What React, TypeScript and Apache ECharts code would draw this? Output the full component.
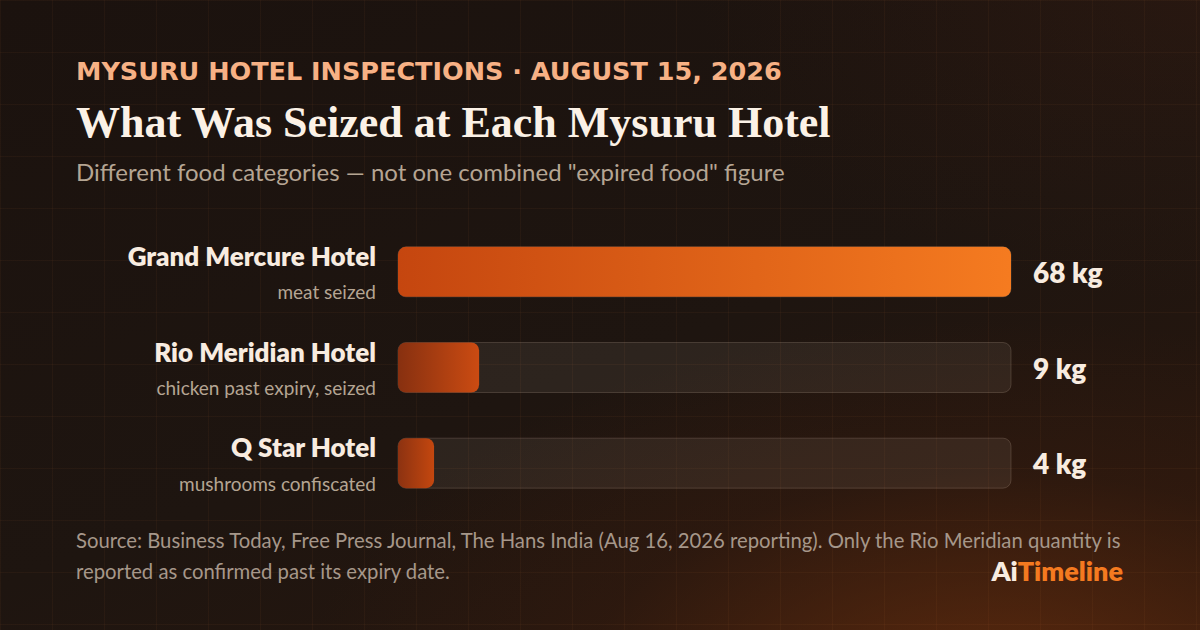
import React, { useRef, useEffect } from "react";
import * as echarts from "echarts";

// data
const hotels = ["Grand Mercure Hotel", "Rio Meridian Hotel", "Q Star Hotel"];
const notes = ["meat seized", "chicken past expiry, seized", "mushrooms confiscated"];
const seizedKg = [68, 9, 4];
const barFrom = ["#c5460f", "#873010", "#8c3211"];
const barTo = ["#f57b20", "#cb4b12", "#c4470f"];

const EYEBROW = "MYSURU HOTEL INSPECTIONS · AUGUST 15, 2026";
const TITLE = "What Was Seized at Each Mysuru Hotel";
const SUBTITLE = 'Different food categories — not one combined "expired food" figure';
const SOURCE_1 =
  "Source: Business Today, Free Press Journal, The Hans India (Aug 16, 2026 reporting). Only the Rio Meridian quantity is";
const SOURCE_2 = "reported as confirmed past its expiry date.";

const SANS = "Lato, 'Noto Sans', sans-serif";
const WIDE = "'DejaVu Sans', 'Noto Sans', sans-serif";
const SERIF = "'Liberation Serif', 'DejaVu Serif', serif";
const CREAM = "#f8ece0";
const MUTED = "#b5a593";

const App: React.FC = () => {
  const ref = useRef<HTMLDivElement>(null);

  useEffect(() => {
    if (!ref.current) return;
    const chart = echarts.init(ref.current, null, { renderer: "svg" });

    chart.setOption({
      animation: false,
      backgroundColor: "transparent",
      grid: { left: 398, right: 189, top: 224, height: 287 },
      xAxis: {
        type: "value",
        min: 0,
        max: 68,
        show: false,
      },
      yAxis: [
        {
          type: "category",
          inverse: true,
          data: hotels,
          axisLine: { show: false },
          axisTick: { show: false },
          axisLabel: {
            margin: 22,
            align: "right",
            formatter: (v: string, i: number) => `{name|${v}}\n{sub|${notes[i]}}`,
            rich: {
              name: {
                fontFamily: SANS,
                fontSize: 26,
                fontWeight: 800,
                color: CREAM,
                lineHeight: 40,
                align: "right",
              },
              sub: {
                fontFamily: SANS,
                fontSize: 19,
                color: MUTED,
                lineHeight: 32,
                align: "right",
              },
            },
          },
        },
        {
          type: "category",
          inverse: true,
          position: "right",
          data: hotels,
          axisLine: { show: false },
          axisTick: { show: false },
          axisLabel: {
            margin: 22,
            align: "left",
            fontFamily: SANS,
            fontSize: 28,
            fontWeight: 800,
            color: CREAM,
            formatter: (_v: string, i: number) => `${seizedKg[i]} kg`,
          },
        },
      ],
      series: [
        {
          type: "bar",
          barWidth: 50,
          showBackground: true,
          backgroundStyle: {
            color: "rgba(255,240,225,0.07)",
            borderColor: "rgba(255,230,205,0.16)",
            borderWidth: 1,
            borderRadius: 8,
          },
          data: seizedKg.map((v, i) => ({
            value: v,
            itemStyle: {
              borderRadius: 8,
              color: new echarts.graphic.LinearGradient(0, 0, 1, 0, [
                { offset: 0, color: barFrom[i] },
                { offset: 1, color: barTo[i] },
              ]),
            },
          })),
        },
      ],
      graphic: [
        {
          type: "text",
          left: 76,
          top: 58,
          style: {
            text: EYEBROW,
            fontFamily: WIDE,
            fontSize: 25.5,
            fontWeight: 700,
            fill: "#f7b185",
          },
        },
        {
          type: "text",
          left: 76,
          top: 100,
          style: {
            text: TITLE,
            fontFamily: SERIF,
            fontSize: 44,
            fontWeight: 700,
            fill: "#fbf1e6",
          },
        },
        {
          type: "text",
          left: 76,
          top: 159,
          style: {
            text: SUBTITLE,
            fontFamily: SANS,
            fontSize: 24,
            fill: MUTED,
          },
        },
        {
          type: "text",
          left: 76,
          top: 530,
          style: {
            text: SOURCE_1,
            fontFamily: SANS,
            fontSize: 20.3,
            fill: "#a6978a",
          },
        },
        {
          type: "text",
          left: 76,
          top: 561,
          style: {
            text: SOURCE_2,
            fontFamily: SANS,
            fontSize: 20.3,
            fill: "#a6978a",
          },
        },
        {
          type: "text",
          right: 77,
          top: 557,
          style: {
            text: "{ai|Ai}{tl|Timeline}",
            rich: {
              ai: { fontFamily: SANS, fontSize: 27, fontWeight: 800, fill: CREAM },
              tl: { fontFamily: SANS, fontSize: 27, fontWeight: 800, fill: "#f47a20" },
            },
          },
        },
      ],
    });

    return () => chart.dispose();
  }, []);

  return (
    <div
      style={{
        position: "fixed",
        left: 0,
        top: 0,
        width: 1200,
        height: 630,
        overflow: "hidden",
        background:
          "radial-gradient(ellipse 700px 380px at 1000px 700px, rgba(110,48,14,0.75), rgba(70,32,14,0.25) 60%, rgba(0,0,0,0) 100%), " +
          "radial-gradient(ellipse 500px 300px at 1200px 0px, rgba(60,30,18,0.35), rgba(0,0,0,0) 100%), " +
          "linear-gradient(160deg, #1b120e 0%, #1e1510 55%, #2a170d 100%)",
      }}
    >
      <div
        style={{
          position: "absolute",
          inset: 0,
          backgroundImage:
            "linear-gradient(rgba(255,150,80,0.045) 1px, transparent 1px), linear-gradient(90deg, rgba(255,150,80,0.045) 1px, transparent 1px)",
          backgroundSize: "52px 52px",
        }}
      />
      <div ref={ref} style={{ position: "absolute", left: 0, top: 0, width: 1200, height: 630 }} />
    </div>
  );
};

export default App;
